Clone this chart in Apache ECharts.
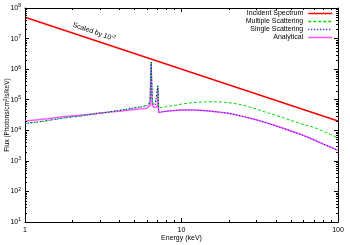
<!DOCTYPE html>
<html><head><meta charset="utf-8">
<script src="https://cdn.jsdelivr.net/npm/echarts@6/dist/echarts.min.js"></script>
<style>html,body{margin:0;padding:0;background:#fff}#c{width:350px;height:245px}</style>
</head><body><div id="c"></div>
<script>
// ---- data ----
const incidentE = [1, 100];
const incidentF = [5e7, 2e4];

const multipleE = [1,1.1,1.2,1.3,1.4,1.5,1.6,1.7,1.8,1.9,2.0,2.2,2.4,2.6,2.8,3.0,3.3,3.6,4.0,4.4,4.8,5.2,5.6,6.0,6.2,6.3,6.4,6.5,6.6,6.8,6.95,7.06,7.12,7.15,7.5,8,9,10,11,12,14,16,18,20,23,26,30,35,40,45,50,60,70,80,90,100];
const multipleF = [1.65e4,1.8e4,1.85e4,2.0e4,2.05e4,2.25e4,2.3e4,2.5e4,2.5e4,2.7e4,2.7e4,2.85e4,3.1e4,3.2e4,3.45e4,3.55e4,3.85e4,4.1e4,4.5e4,4.8e4,5.3e4,5.6e4,6.0e4,6.6e4,7.5e4,1.0e5,1.8e6,1.0e5,7.2e4,7.3e4,8.0e4,2.9e5,7.5e4,5.4e4,5.6e4,5.9e4,6.5e4,7.2e4,7.7e4,8.1e4,8.5e4,8.6e4,8.4e4,8.0e4,7.2e4,6.2e4,5.0e4,3.8e4,3.1e4,2.55e4,2.1e4,1.55e4,1.25e4,9.5e3,7.2e3,5.5e3];

const singleE = [1,1.1,1.2,1.3,1.4,1.5,1.6,1.7,1.8,1.9,2.0,2.2,2.4,2.6,2.8,3.0,3.3,3.6,4.0,4.4,4.8,5.2,5.6,6.0,6.2,6.3,6.4,6.5,6.6,6.8,6.95,7.06,7.12,7.15,7.5,8,9,10,11,12,14,16,18,20,23,26,30,35,40,45,50,60,70,80,90,100];
const singleF = [1.7e4,1.75e4,1.9e4,1.95e4,2.1e4,2.2e4,2.35e4,2.4e4,2.6e4,2.6e4,2.75e4,2.9e4,3.05e4,3.25e4,3.4e4,3.6e4,3.8e4,4.15e4,4.45e4,4.85e4,5.2e4,5.6e4,5.9e4,6.4e4,7.0e4,9.0e4,1.7e6,9.0e4,6.8e4,6.9e4,7.3e4,2.8e5,7.0e4,3.9e4,4.0e4,4.2e4,4.45e4,4.6e4,4.65e4,4.6e4,4.4e4,4.15e4,3.85e4,3.6e4,3.1e4,2.65e4,2.2e4,1.75e4,1.4e4,1.15e4,9.5e3,6.8e3,4.9e3,3.6e3,2.8e3,2.2e3];

const analyticalE = [1,1.2,1.4,1.6,1.8,2.0,2.5,3.0,3.5,4.0,4.5,5.0,5.5,6.0,6.3,6.4,6.5,6.7,7.0,7.06,7.1,7.15,7.5,8,9,10,11,12,13,15,17,20,25,30,35,40,50,55,60,70,80,90,100];
const analyticalF = [2.0e4,2.2e4,2.4e4,2.6e4,2.8e4,2.95e4,3.3e4,3.65e4,3.95e4,4.2e4,4.5e4,4.8e4,5.05e4,5.3e4,6.5e4,1.5e6,6.5e4,5.6e4,5.8e4,2.5e5,5.8e4,3.9e4,4.0e4,4.2e4,4.45e4,4.6e4,4.65e4,4.6e4,4.55e4,4.3e4,4.0e4,3.6e4,2.8e4,2.2e4,1.75e4,1.4e4,9.5e3,8.0e3,6.8e3,4.9e3,3.6e3,2.8e3,2.2e3];

const seriesNames = ['Incident Spectrum','Multiple Scattering','Single Scattering','Analytical'];
const xTickLabels = ['1','10','100'];
const xName = 'Energy (keV)';
const yName = 'Flux (Photons/cm{sup|2}/s/keV)';
const annotation = 'Scaled by 10{sup|-2}';

// ---- helpers ----
const zip = (xs, ys) => xs.map((x, i) => [x, ys[i]]);
const xMinor = [], yMinor = [];
for (let d = 0; d < 2; d++) for (let m = 2; m <= 9; m++) xMinor.push([m * Math.pow(10, d)]);
for (let d = 1; d < 8; d++) for (let m = 2; m <= 9; m++) yMinor.push([m * Math.pow(10, d)]);

const FONT = 'Liberation Sans';
const chart = echarts.init(document.getElementById('c'), null, {renderer: 'canvas'});

const lineBase = {type: 'line', showSymbol: false, symbol: 'none', animation: false, xAxisIndex: 0, yAxisIndex: 0};

function minorTicksX(params, api) {
  const v = api.value(0);
  const b = api.coord([v, 10]);
  const t = api.coord([v, 1e8]);
  const st = {stroke: '#000', lineWidth: 1};
  return {type: 'group', children: [
    {type: 'line', shape: {x1: Math.round(b[0]) + 0.5, y1: b[1], x2: Math.round(b[0]) + 0.5, y2: b[1] - 2}, style: st},
    {type: 'line', shape: {x1: Math.round(t[0]) + 0.5, y1: t[1], x2: Math.round(t[0]) + 0.5, y2: t[1] + 2}, style: st}
  ]};
}
function minorTicksY(params, api) {
  const v = api.value(0);
  const l = api.coord([1, v]);
  const r = api.coord([100, v]);
  const st = {stroke: '#000', lineWidth: 1};
  return {type: 'group', children: [
    {type: 'line', shape: {x1: l[0], y1: Math.round(l[1]) + 0.5, x2: l[0] + 2, y2: Math.round(l[1]) + 0.5}, style: st},
    {type: 'line', shape: {x1: r[0], y1: Math.round(r[1]) + 0.5, x2: r[0] - 2, y2: Math.round(r[1]) + 0.5}, style: st}
  ]};
}

const supRich = {sup: {fontSize: 5, verticalAlign: 'top', padding: [0, 0, 4, 0], fontFamily: FONT, color: '#000'}};

const axisCommon = {
  type: 'log', logBase: 10,
  axisLine: {show: true, lineStyle: {color: '#000', width: 1}},
  axisTick: {show: true, inside: true, length: 4, lineStyle: {color: '#000'}},
  splitLine: {show: false},
  nameMoveOverlap: false
};

chart.setOption({
  backgroundColor: '#fff',
  animation: false,
  textStyle: {fontFamily: FONT},
  grid: {left: 25, right: 12, top: 8, bottom: 23, containLabel: false, outerBoundsMode: 'none'},
  legend: {
    data: seriesNames, orient: 'vertical', right: 17, top: 10,
    align: 'right', itemWidth: 24, itemHeight: 6, itemGap: 1, padding: 0,
    textStyle: {fontSize: 7, color: '#000', fontFamily: FONT},
    itemStyle: {opacity: 0, borderWidth: 0},
    lineStyle: {width: 1.5},
    selectedMode: false
  },
  xAxis: [
    Object.assign({}, axisCommon, {
      min: 1, max: 100, position: 'bottom',
      name: xName, nameLocation: 'middle', nameGap: 13,
      nameTextStyle: {fontSize: 7, color: '#000', fontFamily: FONT},
      axisLabel: {fontSize: 7, color: '#000', margin: 5, fontFamily: FONT,
        formatter: v => { const i = Math.round(Math.log10(v)); return xTickLabels[i] !== undefined ? xTickLabels[i] : ''; }}
    }),
    Object.assign({}, axisCommon, {min: 1, max: 100, position: 'top', axisLabel: {show: false}})
  ],
  yAxis: [
    Object.assign({}, axisCommon, {
      min: 10, max: 1e8, position: 'left', splitNumber: 7,
      name: yName, nameLocation: 'middle', nameGap: 14, nameRotate: 90,
      nameTextStyle: {fontSize: 6.5, color: '#000', fontFamily: FONT, rich: {sup: {fontSize: 4.5, verticalAlign: 'top', padding: [0,0,3,0], fontFamily: FONT}}},
      axisLabel: {fontSize: 7, color: '#000', margin: 4, fontFamily: FONT,
        formatter: v => '10{sup|' + Math.round(Math.log10(v)) + '}', rich: supRich}
    }),
    Object.assign({}, axisCommon, {min: 10, max: 1e8, position: 'right', splitNumber: 7, axisLabel: {show: false}})
  ],
  graphic: [{
    type: 'text', x: 94, y: 32, rotation: -0.33,
    style: {text: annotation, fontSize: 7, fill: '#000', fontFamily: FONT, align: 'center', verticalAlign: 'middle',
      rich: {sup: {fontSize: 5, verticalAlign: 'top', padding: [0,0,4,0], fontFamily: FONT, fill: '#000'}}}
  }],
  series: [
    Object.assign({}, lineBase, {name: seriesNames[0], data: zip(incidentE, incidentF), z: 3,
      lineStyle: {color: '#ff0000', width: 1.5}, itemStyle: {color: '#ff0000'}}),
    Object.assign({}, lineBase, {name: seriesNames[3], data: zip(analyticalE, analyticalF), z: 3,
      lineStyle: {color: '#ff55ff', width: 1.5}, itemStyle: {color: '#ff55ff'}}),
    Object.assign({}, lineBase, {name: seriesNames[1], data: zip(multipleE, multipleF), z: 4,
      lineStyle: {color: '#00dd00', width: 1, type: [3, 2]}, itemStyle: {color: '#00dd00'}}),
    Object.assign({}, lineBase, {name: seriesNames[2], data: zip(singleE, singleF), z: 5,
      lineStyle: {color: '#0000ff', width: 1, type: [1, 2]}, itemStyle: {color: '#0000ff'}}),
    {type: 'custom', name: 'xminor', data: xMinor, renderItem: minorTicksX, xAxisIndex: 0, yAxisIndex: 0, silent: true, clip: false, z: 6},
    {type: 'custom', name: 'yminor', data: yMinor, renderItem: minorTicksY, xAxisIndex: 0, yAxisIndex: 0, silent: true, clip: false, z: 6}
  ]
});
</script></body></html>
